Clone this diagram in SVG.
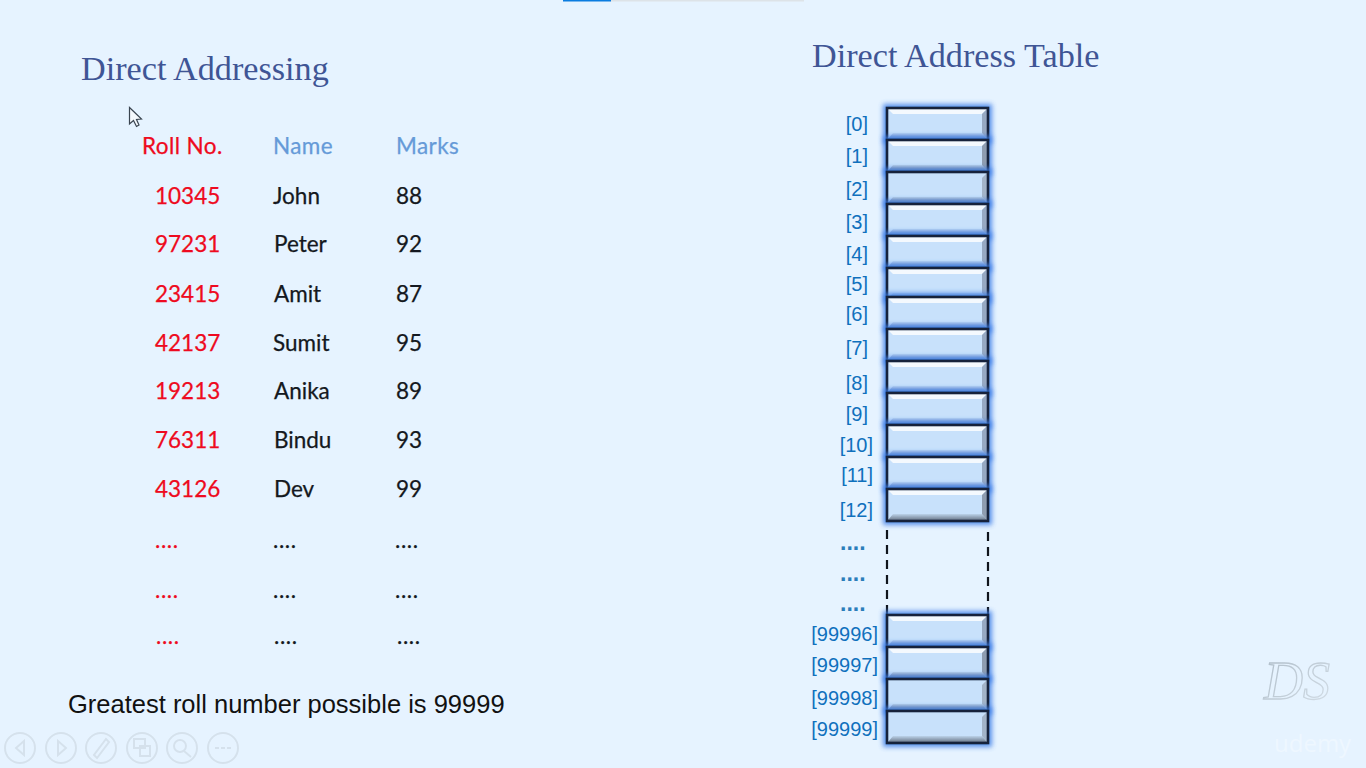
<svg xmlns="http://www.w3.org/2000/svg" xmlns:xlink="http://www.w3.org/1999/xlink" width="1366" height="768" viewBox="0 0 1366 768">
<style>
.title{font-family:"Liberation Serif",serif;font-size:34.2px;fill:#3f5595}
.t{font-family:Lato,"Open Sans",sans-serif;font-size:22.5px;stroke-width:.25px}
.red{fill:#ee0a20;stroke:#ee0a20}.blk{fill:#141820;stroke:#141820}.hdr{fill:#659ad8;stroke:#659ad8}
.idx{font-family:"Liberation Sans",sans-serif;font-size:20px;fill:#0f70bd;text-anchor:end}
.dots{font-family:"Liberation Sans",sans-serif;font-size:23px;font-weight:bold;fill:#2b7dba}
.note{font-family:"Liberation Sans",sans-serif;font-size:25.5px;fill:#111}
.dash{stroke:#10141c;stroke-width:2.2;stroke-dasharray:9 6;fill:none}
.nav{opacity:.85}
.nav circle{fill:none;stroke:#d3dfe9;stroke-width:2}
.nav path,.nav rect{fill:none;stroke:#d3dfe9;stroke-width:2}
</style>
<defs>
<filter id="blur" x="-20%" y="-40%" width="140%" height="180%"><feGaussianBlur stdDeviation="2.4"/></filter>
<filter id="soft" x="-5%" y="-10%" width="110%" height="120%"><feGaussianBlur stdDeviation="0.7"/></filter>
<linearGradient id="ds" x1="0" y1="0" x2="1" y2="1"><stop offset="0" stop-color="#aebcc8"/><stop offset="1" stop-color="#d5dfe8"/></linearGradient>
<linearGradient id="bot" x1="0" y1="0" x2="0" y2="1"><stop offset="0" stop-color="#bcd6f4"/><stop offset="1" stop-color="#6f8fc4"/></linearGradient>
<linearGradient id="botg" x1="0" y1="0" x2="0" y2="1"><stop offset="0" stop-color="#bcd3ea"/><stop offset="1" stop-color="#6d7a8c"/></linearGradient>
<g id="glow"><rect x="883" y="-4" width="109" height="40" fill="#3f7fe8" filter="url(#blur)" opacity=".85"/></g>
<g id="body"><rect x="887" y="0" width="101" height="32" fill="#c8e1fb"/></g>
<g id="frame"><rect x="887" y="0" width="101" height="32" fill="none" stroke="#12203a" stroke-width="2.6"/></g>
<g id="cell">
<use href="#glow"/>
<g filter="url(#soft)">
<use href="#body"/>
<polygon points="888,1 987,1 982,6 893,6" fill="#f4f9fe"/>
<polygon points="888,31 987,31 982,25 893,25" fill="url(#bot)"/>
<polygon points="987,1 982,6 982,25 987,31" fill="#97a9c2"/>
<use href="#frame"/>
</g>
</g>
<g id="cellg">
<use href="#glow"/>
<g filter="url(#soft)">
<use href="#body"/>
<polygon points="888,1 987,1 982,6 893,6" fill="#f4f9fe"/>
<polygon points="888,31 987,31 982,25 893,25" fill="url(#botg)"/>
<polygon points="987,1 982,6 982,25 987,31" fill="#8f9db0"/>
<use href="#frame"/>
</g>
</g>
<g id="plain">
<use href="#glow"/>
<g filter="url(#soft)">
<use href="#body"/>
<polygon points="888,31 987,31 982,25 893,25" fill="url(#botg)"/>
<polygon points="987,1 982,6 982,25 987,31" fill="#a3b4c8"/>
<use href="#frame"/>
</g>
</g>
</defs>
<rect width="1366" height="768" fill="#e6f3ff"/>
<rect x="563" y="0" width="48" height="1.500" fill="#0a7ce0"/>
<rect x="611" y="0" width="193" height="1.500" fill="#dde3e8"/>

<text class="title" x="81" y="80">Direct Addressing</text>
<text class="title" x="812" y="67">Direct Address Table</text>

<path d="M129.500 107.500 L129.500 124 L133.500 120.500 L136.500 126.500 L139 125 L136.500 119.500 L141.500 119 Z" fill="#f4f8fc" stroke="#3a4450" stroke-width="1.200"/>

<g id="table-header">
<text class="t red" x="142" y="154" letter-spacing=".4">Roll No.</text>
<text class="t hdr" x="273" y="154" letter-spacing=".4">Name</text>
<text class="t hdr" x="396" y="154" letter-spacing=".4">Marks</text>
</g>
<g id="row-1"><text class="t red" x="155" y="204">10345</text><text class="t blk" x="273" y="204">John</text><text class="t blk" x="396" y="204">88</text></g>
<g id="row-2"><text class="t red" x="155" y="252">97231</text><text class="t blk" x="274" y="252">Peter</text><text class="t blk" x="396" y="252">92</text></g>
<g id="row-3"><text class="t red" x="155" y="302">23415</text><text class="t blk" x="274" y="302">Amit</text><text class="t blk" x="396" y="302">87</text></g>
<g id="row-4"><text class="t red" x="155" y="351">42137</text><text class="t blk" x="273" y="351">Sumit</text><text class="t blk" x="396" y="351">95</text></g>
<g id="row-5"><text class="t red" x="155" y="399">19213</text><text class="t blk" x="274" y="399">Anika</text><text class="t blk" x="396" y="399">89</text></g>
<g id="row-6"><text class="t red" x="155" y="448">76311</text><text class="t blk" x="274" y="448">Bindu</text><text class="t blk" x="396" y="448">93</text></g>
<g id="row-7"><text class="t red" x="155" y="497">43126</text><text class="t blk" x="274" y="497">Dev</text><text class="t blk" x="396" y="497">99</text></g>
<g id="row-8"><text class="t red" x="155" y="548" letter-spacing=".6">....</text><text class="t blk" x="273" y="548" letter-spacing=".6">....</text><text class="t blk" x="395" y="548" letter-spacing=".6">....</text></g>
<g id="row-9"><text class="t red" x="155" y="598" letter-spacing=".6">....</text><text class="t blk" x="273" y="598" letter-spacing=".6">....</text><text class="t blk" x="395" y="598" letter-spacing=".6">....</text></g>
<g id="row-10"><text class="t red" x="156" y="644" letter-spacing=".6">....</text><text class="t blk" x="274" y="644" letter-spacing=".6">....</text><text class="t blk" x="397" y="644" letter-spacing=".6">....</text></g>

<text class="note" x="68" y="712.500">Greatest roll number possible is 99999</text>

<g id="connectors">
<line class="dash" x1="887" y1="530" x2="887" y2="614"/>
<line class="dash" x1="988" y1="532" x2="988" y2="614"/>
</g>

<g id="cell-0"><use href="#cell" y="108"/><text class="idx" x="868" y="131">[0]</text></g>
<g id="cell-1"><use href="#cellg" y="140"/><text class="idx" x="868" y="163">[1]</text></g>
<g id="cell-2"><use href="#plain" y="172"/><text class="idx" x="868" y="196">[2]</text></g>
<g id="cell-3"><use href="#cell" y="204"/><text class="idx" x="868" y="229">[3]</text></g>
<g id="cell-4"><use href="#cell" y="236"/><text class="idx" x="868" y="261">[4]</text></g>
<g id="cell-5"><use href="#cell" y="268"/><text class="idx" x="868" y="291">[5]</text></g>
<g id="cell-6"><use href="#cell" y="297"/><text class="idx" x="868" y="321">[6]</text></g>
<g id="cell-7"><use href="#cell" y="329"/><text class="idx" x="868" y="355">[7]</text></g>
<g id="cell-8"><use href="#cell" y="361"/><text class="idx" x="868" y="390">[8]</text></g>
<g id="cell-9"><use href="#cell" y="393"/><text class="idx" x="868" y="421">[9]</text></g>
<g id="cell-10"><use href="#cell" y="425"/><text class="idx" x="873" y="452">[10]</text></g>
<g id="cell-11"><use href="#cell" y="457"/><text class="idx" x="873" y="482">[11]</text></g>
<g id="cell-12"><use href="#cellg" y="489"/><text class="idx" x="873" y="517">[12]</text></g>
<g id="gap-labels">
<text class="dots" x="840" y="550">....</text>
<text class="dots" x="840" y="581">....</text>
<text class="dots" x="840" y="611">....</text>
</g>
<g id="cell-99996"><use href="#cell" y="615"/><text class="idx" x="878" y="641">[99996]</text></g>
<g id="cell-99997"><use href="#cellg" y="647"/><text class="idx" x="878" y="672">[99997]</text></g>
<g id="cell-99998"><use href="#plain" y="679"/><text class="idx" x="878" y="705">[99998]</text></g>
<g id="cell-99999"><use href="#plain" y="711"/><text class="idx" x="878" y="736">[99999]</text></g>

<g id="logo">
<text x="1264" y="699" font-family="Liberation Serif,serif" font-style="italic" font-size="54" fill="none" stroke="url(#ds)" stroke-width="1.300">DS</text>
<text x="1274" y="752" font-family="Open Sans,sans-serif" font-size="24" fill="#eef7ff">udemy</text>
</g>

<g id="nav" class="nav">
<circle cx="20" cy="748" r="15"/><path d="M24 741 L16 748 L24 755 Z"/>
<circle cx="61" cy="748" r="15"/><path d="M58 741 L66 748 L58 755 Z"/>
<circle cx="101" cy="748" r="15"/><path d="M94 755 L97 758 L109 742 L106 739 Z"/>
<circle cx="142" cy="748" r="15"/><rect x="134" y="739" width="11" height="9"/><rect x="140" y="746" width="10" height="10"/>
<circle cx="182" cy="748" r="15"/><circle cx="180" cy="746" r="6"/><path d="M184 751 L191 757"/>
<circle cx="223" cy="748" r="15"/><path d="M215 748 h4 M221 748 h4 M227 748 h4"/>
</g>
</svg>
